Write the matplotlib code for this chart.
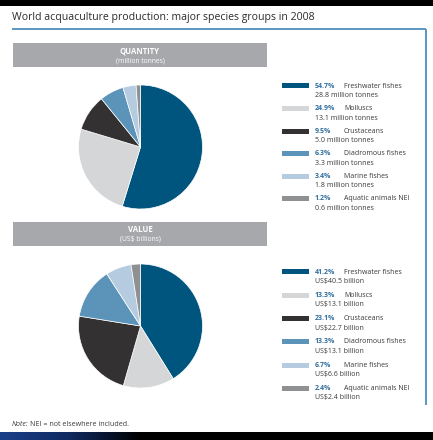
import matplotlib
matplotlib.use("Agg")
import matplotlib.pyplot as plt
from matplotlib.colors import LinearSegmentedColormap
import numpy as np

# Species groups and figures
groups = ["Freshwater fishes", "Molluscs", "Crustaceans", "Diadromous fishes",
          "Marine fishes", "Aquatic animals NEI"]
qty_pct = ["54.7%", "24.9%", "9.5%", "6.3%", "3.4%", "1.2%"]
qty_vals = [28.8, 13.1, 5.0, 3.3, 1.8, 0.6]
val_pct = ["41.2%", "13.3%", "23.1%", "13.3%", "6.7%", "2.4%"]
val_vals = [40.5, 13.1, 22.7, 13.1, 6.6, 2.4]

colors = ["#00557f", "#d5d6d8", "#333132", "#5b93b9", "#b5cbe0", "#8f9092"]
pct_color = "#2f6e9e"
text_color = "#3a3a3a"
header_gray = "#a7a8ab"
frame_blue = "#5a97c2"

W, H = 433, 440
fig = plt.figure(figsize=(W / 100, H / 100), dpi=100)
plt.rcParams["font.family"] = ["Open Sans", "DejaVu Sans"]

bg = fig.add_axes([0, 0, 1, 1])
bg.axis("off")

# Top and bottom bands
bg.add_patch(plt.Rectangle((0, 0), W, 6, color="black", lw=0))
bg.add_patch(plt.Rectangle((0, 432), W, 8, color="black", lw=0))
grad = np.linspace(0, 1, 256)[None, :]
cmap = LinearSegmentedColormap.from_list("band", ["#1a3f8a", "#102a60", "#000000"])
bg.imshow(grad, extent=(0, 140, 440, 432), cmap=cmap, aspect="auto", zorder=2)
bg.set_xlim(0, W)
bg.set_ylim(H, 0)

# Title and frame
bg.text(12, 17.5, "World acquaculture production: major species groups in 2008",
        fontsize=7.6, color="#2b2b2b", va="center", ha="left")
bg.plot([12, 425.5], [29, 29], color=frame_blue, lw=1.4, solid_capstyle="butt")
bg.plot([425.5, 425.5], [29, 405], color=frame_blue, lw=1.4, solid_capstyle="butt")

# Section headers
def header(y0, title, sub):
    bg.add_patch(plt.Rectangle((13, y0), 254, 24, color=header_gray, lw=0))
    bg.text(140, y0 + 8, title, fontsize=5.6, fontweight="bold", color="white",
            ha="center", va="center")
    bg.text(140, y0 + 17.5, sub, fontsize=4.9, color="white", ha="center", va="center")

header(43, "QUANTITY", "(million tonnes)")
header(222, "VALUE", "(US$ billions)")

def pie(cx, cy, r, vals):
    ax = fig.add_axes([(cx - r) / W, (H - cy - r) / H, 2 * r / W, 2 * r / H])
    ax.pie(vals, colors=colors, startangle=90, counterclock=False,
           wedgeprops=dict(edgecolor="white", linewidth=0.5))
    ax.set_xlim(-1, 1)
    ax.set_ylim(-1, 1)
    ax.set_aspect("equal")
    ax.axis("off")

pie(140.5, 147, 62, qty_vals)
pie(140.5, 326, 62, val_vals)

def legend(y_start, step, pcts, second):
    for i, (g, p, s) in enumerate(zip(groups, pcts, second)):
        y = y_start + i * step
        bg.add_patch(plt.Rectangle((282, y - 2.5), 27, 5, color=colors[i], lw=0))
        bg.text(315, y, p, fontsize=5.0, fontweight="bold", color=pct_color,
                ha="left", va="center")
        bg.text(344, y, g, fontsize=5.0, color=text_color, ha="left", va="center")
        bg.text(315, y + 9.5, s, fontsize=5.0, color=text_color, ha="left", va="center")

legend(86, 22.6, qty_pct, [f"{v:.1f} million tonnes" for v in qty_vals])
legend(272, 23.3, val_pct, [f"US${v:.1f} billion" for v in val_vals])

# Footnote
bg.text(12, 425, "Note:", fontsize=5.1, style="italic", color=text_color, va="center")
bg.text(30, 425, "NEI = not elsewhere included.", fontsize=5.1, color=text_color, va="center")

fig.savefig("out.png", dpi=100)
